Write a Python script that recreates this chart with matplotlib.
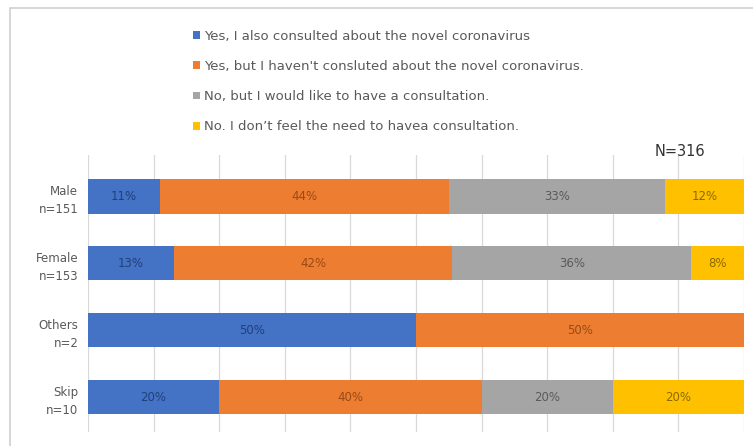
import numpy as np
import matplotlib.pyplot as plt
from matplotlib.patches import Rectangle

## data
groups = ['Male\nn=151', 'Female\nn=153', 'Others\nn=2', 'Skip\nn=10']
answers = ['Yes, I also consulted about the novel coronavirus',
           "Yes, but I haven't consluted about the novel coronavirus.",
           'No, but I would like to have a consultation.',
           'No. I don\u2019t feel the need to havea consultation.']
yes_consulted = [11, 13, 50, 20]
yes_not_covid = [44, 42, 50, 40]
no_would_like = [33, 36, 0, 20]
no_need = [12, 8, 0, 20]
total_label = 'N=316'

colors = ['#4472C4', '#ED7D31', '#A5A5A5', '#FFC000']
text_colors = ['#22407a', '#9a4a14', '#5a5a5a', '#8a6a00']

fig = plt.figure(figsize=(7.53, 4.46), dpi=100)
fig.patches.append(Rectangle((10/753, -0.05), 1.1, 1 - 8/446 + 0.05,
                             transform=fig.transFigure, fill=False,
                             edgecolor='#d0d0d0', lw=1.2))

ax = fig.add_axes([88/753, 1 - 432/446, (744 - 88)/753, (432 - 155)/446])

series = [yes_consulted, yes_not_covid, no_would_like, no_need]
## 100% stacked: each row is scaled to its own total
row_totals = np.sum(np.array(series, dtype=float), axis=0)
y = np.arange(len(groups))
left = np.zeros(len(groups))
for vals, col, tcol, lab in zip(series, colors, text_colors, answers):
    vals = np.array(vals, dtype=float)
    widths = vals/row_totals*100
    ax.barh(y, widths, left=left, height=0.51, color=col, label=lab, zorder=2)
    for yi, v, w, l in zip(y, vals, widths, left):
        if v > 0:
            ax.text(l + w/2, yi, '{0}%'.format(int(v)), ha='center',
                    va='center', fontsize=8.5, color=tcol, zorder=3)
    left += widths

ax.set_xlim(0, 100)
ax.set_ylim(3.52, -0.62)
ax.set_xticks(np.arange(0, 101, 10))
ax.set_xticklabels([])
ax.xaxis.grid(True, color='#d9d9d9', lw=0.9, zorder=0)
ax.tick_params(axis='x', length=0)
ax.tick_params(axis='y', length=0, pad=7, labelsize=8.5, labelcolor='#595959')
ax.set_yticks(y)
ax.set_yticklabels(groups, ha='right', linespacing=1.5)
for s in ax.spines.values():
    s.set_visible(False)

## legend as stacked entries at the top
handles, labels = ax.get_legend_handles_labels()
fig.legend(handles, labels, loc='upper left', bbox_to_anchor=(181/753, 1 - 18/446),
           frameon=False, fontsize=9.5, labelcolor='#595959', handlelength=0.55,
           handleheight=0.55, handletextpad=0.3, labelspacing=1.3)

fig.text(680/753, 1 - 152/446, total_label, ha='center', va='center',
         fontsize=10.5, color='#333333')

fig.savefig('out.png', dpi=100)
